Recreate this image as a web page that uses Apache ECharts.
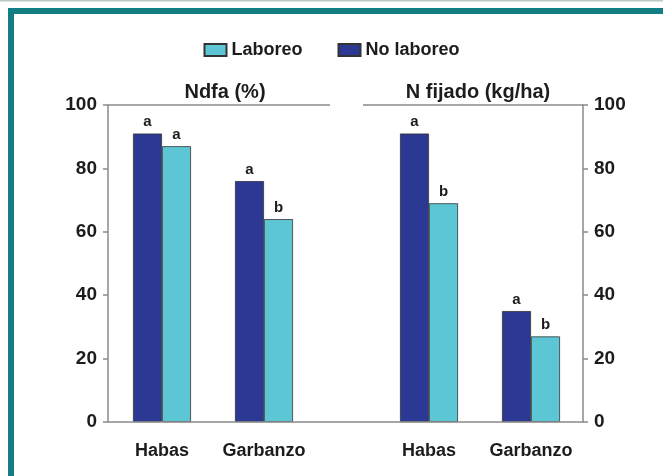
<!DOCTYPE html>
<html>
<head>
<meta charset="utf-8">
<style>
  html, body { margin: 0; padding: 0; background: #fff; }
  #chart { width: 663px; height: 476px; }
</style>
<script src="https://cdn.jsdelivr.net/npm/echarts@6/dist/echarts.min.js"></script>
</head>
<body>
<div id="chart"></div>
<script>
// categories and series
const categories = ["Habas", "Garbanzo"];
const ndfaNoLaboreo = [91, 76];
const ndfaLaboreo = [87, 64];
const nfijNoLaboreo = [91, 35];
const nfijLaboreo = [69, 27];
// significance letters
const ndfaNoLetters = ["a", "a"];
const ndfaLabLetters = ["a", "b"];
const nfijNoLetters = ["a", "a"];
const nfijLabLetters = ["b", "b"];

const DARK = "#2b3994";
const CYAN = "#5cc6d4";
const TEAL = "#127e83";
const INK = "#1c1c1c";
const FONT = "Liberation Sans";

const chart = echarts.init(document.getElementById("chart"));

const letterLabel = (letters) => ({
  show: true,
  position: "top",
  distance: 4,
  fontFamily: FONT,
  fontWeight: "bold",
  fontSize: 15,
  color: INK,
  formatter: (p) => letters[p.dataIndex],
});

const bar = (name, data, color, letters, idx) => ({
  name: name,
  type: "bar",
  xAxisIndex: idx,
  yAxisIndex: idx,
  data: data,
  barWidth: 29,
  barGap: "0%",
  itemStyle: { color: color, borderColor: "#333", borderWidth: 0.8 },
  label: letterLabel(letters),
});

const catAxis = (idx) => ({
  type: "category",
  gridIndex: idx,
  data: categories,
  axisLine: { show: false },
  axisTick: { show: false },
  axisLabel: {
    interval: 0,
    hideOverlap: false,
    margin: 20,
    fontFamily: FONT,
    fontWeight: "bold",
    fontSize: 18,
    color: INK,
  },
});

const valAxis = (idx, pos, off) => ({
  type: "value",
  gridIndex: idx,
  position: pos,
  offset: off,
  min: 0,
  max: 100,
  interval: 20,
  splitLine: { show: false },
  axisLine: { show: true, lineStyle: { color: "#8a8a8a", width: 1.5 } },
  axisTick: { show: true, length: 5, lineStyle: { color: "#8a8a8a", width: 1.5 } },
  axisLabel: {
    margin: 11,
    fontFamily: FONT,
    fontWeight: "bold",
    fontSize: 19,
    color: INK,
  },
});

const hLine = (x1, x2, y) => ({
  type: "line",
  z: 10,
  shape: { x1: x1, y1: y, x2: x2, y2: y },
  style: { stroke: "#8a8a8a", lineWidth: 1.5 },
});

const titleStyle = { fontFamily: FONT, fontWeight: "bold", fontSize: 20, color: INK };

chart.setOption({
  backgroundColor: "#fff",
  animation: false,
  title: [
    { text: "Ndfa (%)", left: 220, top: 77, textAlign: "center", textStyle: titleStyle },
    { text: "N fijado (kg/ha)", left: 473, top: 77, textAlign: "center", textStyle: titleStyle },
  ],
  legend: {
    data: ["Laboreo", "No laboreo"],
    top: 36,
    left: "center",
    icon: "rect",
    itemWidth: 22,
    itemHeight: 12,
    itemGap: 35,
    textStyle: { fontFamily: FONT, fontWeight: "bold", fontSize: 18, color: INK },
  },
  grid: [
    { left: 111, top: 105, width: 204, height: 317 },
    { left: 378, top: 105, width: 204, height: 317 },
  ],
  xAxis: [catAxis(0), catAxis(1)],
  yAxis: [valAxis(0, "left", 3), valAxis(1, "right", 1)],
  series: [
    bar("No laboreo", ndfaNoLaboreo, DARK, ndfaNoLetters, 0),
    bar("Laboreo", ndfaLaboreo, CYAN, ndfaLabLetters, 0),
    bar("No laboreo", nfijNoLaboreo, DARK, nfijNoLetters, 1),
    bar("Laboreo", nfijLaboreo, CYAN, nfijLabLetters, 1),
  ],
  graphic: [
    // page frame
    { type: "rect", shape: { x: 0, y: 0, width: 663, height: 1.5 }, style: { fill: "#b7c9c6" } },
    { type: "rect", shape: { x: 8, y: 8, width: 655, height: 6 }, style: { fill: TEAL } },
    { type: "rect", shape: { x: 8, y: 8, width: 6, height: 468 }, style: { fill: TEAL } },
    // panel lines
    hLine(108, 330, 105),
    hLine(363, 583, 105),
    hLine(108, 583, 422),
  ],
});
</script>
</body>
</html>
